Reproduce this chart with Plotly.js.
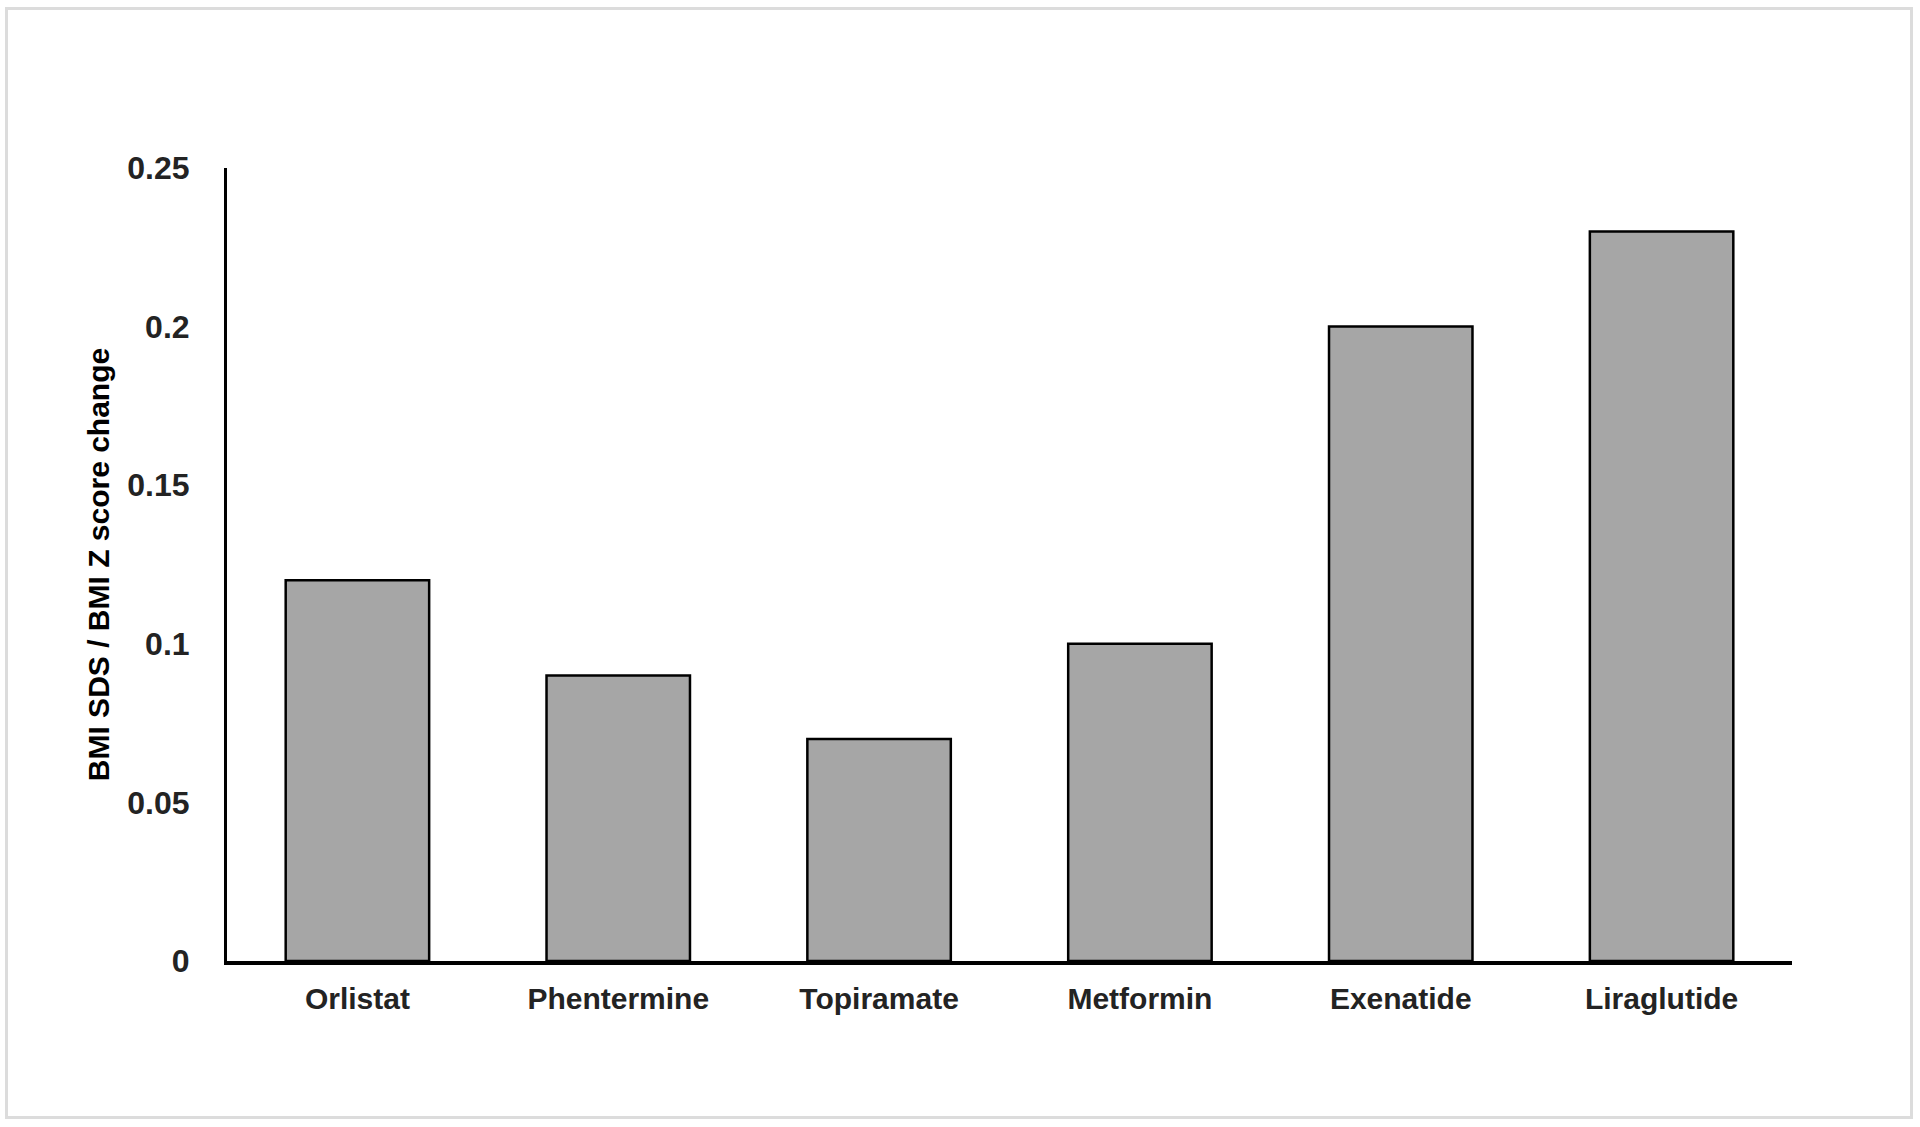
<!DOCTYPE html>
<html>
<head>
<meta charset="utf-8">
<script src="https://cdn.plot.ly/plotly-3.0.1.min.js"></script>
<style>
  html, body { margin: 0; padding: 0; background: #ffffff; }
  #wrap { position: relative; width: 1920px; height: 1127px; }
  #chart { position: absolute; left: 0; top: 0; width: 1920px; height: 1127px; }
  #frame { position: absolute; left: 5px; top: 7px; width: 1902px; height: 1106px;
           border: 3px solid #dcdcdc; pointer-events: none; }
</style>
</head>
<body>
<div id="wrap">
  <div id="chart"></div>
  <div id="frame"></div>
</div>
<script>
const drugs = ["Orlistat", "Phentermine", "Topiramate", "Metformin", "Exenatide", "Liraglutide"];
const bmiChange = [0.12, 0.09, 0.07, 0.10, 0.20, 0.23];
const yTickVals = [0, 0.05, 0.1, 0.15, 0.2, 0.25];
const yTickText = ["0", "0.05", "0.1", "0.15", "0.2", "0.25"];
const yTitle = "BMI SDS / BMI Z score change";

const textColor = "#232323";
const fontFam = "Liberation Sans, Arial, sans-serif";

const trace = {
  type: "bar",
  x: drugs,
  y: bmiChange,
  width: 0.55,
  marker: { color: "#a6a6a6", line: { color: "#000000", width: 2.5 } },
  hoverinfo: "x+y"
};

const layout = {
  width: 1920,
  height: 1127,
  paper_bgcolor: "#ffffff",
  plot_bgcolor: "#ffffff",
  margin: { l: 227, r: 128, t: 168, b: 166, pad: 0 },
  showlegend: false,
  font: { family: fontFam, color: textColor },
  xaxis: {
    type: "category",
    range: [-0.5, 5.5],
    showline: true,
    linecolor: "#000000",
    linewidth: 3.5,
    showgrid: false,
    zeroline: false,
    ticks: "",
    ticklabelstandoff: 8,
    tickfont: { family: fontFam, size: 30, color: textColor, weight: "bold" },
    automargin: false,
    fixedrange: true
  },
  yaxis: {
    range: [0, 0.25],
    showline: true,
    linecolor: "#000000",
    linewidth: 3,
    showgrid: false,
    zeroline: false,
    ticks: "",
    tickmode: "array",
    tickvals: yTickVals,
    ticktext: yTickText,
    ticklabelstandoff: 28,
    tickfont: { family: fontFam, size: 32, color: textColor, weight: "bold" },
    title: {
      text: yTitle,
      font: { family: fontFam, size: 30, color: "#000000", weight: "bold" },
      standoff: 9
    },
    automargin: false,
    fixedrange: true
  }
};

Plotly.newPlot("chart", [trace], layout, { displayModeBar: false, staticPlot: true });
</script>
</body>
</html>
